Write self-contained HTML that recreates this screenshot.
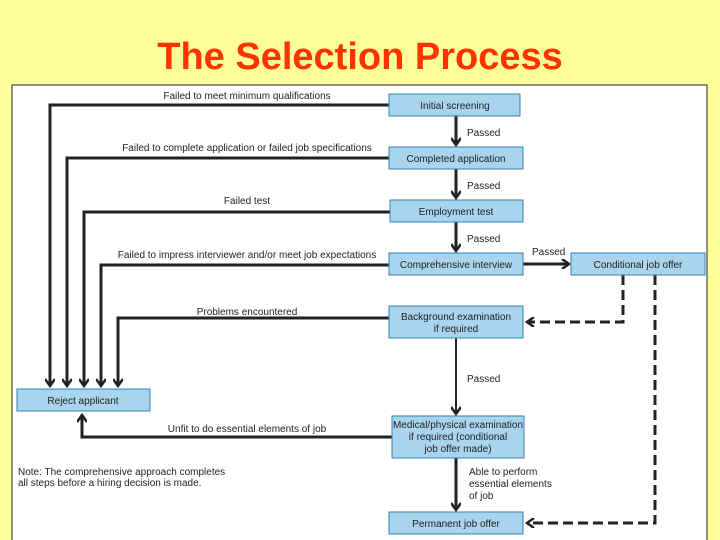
<!DOCTYPE html>
<html><head><meta charset="utf-8"><style>
html,body{margin:0;padding:0}
body{width:720px;height:540px;background:#ffff99;position:relative;overflow:hidden;font-family:"Liberation Sans",sans-serif}
.t{position:absolute;left:0;width:720px;top:36px;text-align:center;font-size:38px;font-weight:bold;color:#ff3300}
svg{position:absolute;left:0;top:0}
</style></head><body>
<div class="t">The Selection Process</div>
<svg width="720" height="540" viewBox="0 0 720 540" font-family="Liberation Sans, sans-serif" font-size="10" fill="#222">
<defs>
<marker id="a" markerWidth="10" markerHeight="10" refX="8" refY="5" orient="auto" markerUnits="userSpaceOnUse"><path d="M1,0 L8,5 L1,10" fill="none" stroke="#222" stroke-width="2.5"/></marker>
</defs>
<rect x="12" y="85" width="695" height="460" fill="#fff" stroke="#222" stroke-width="1"/>
<g stroke="#222" stroke-width="3" fill="none">
<polyline points="389,105 50,105 50,386" marker-end="url(#a)"/>
<polyline points="389,158 67,158 67,386" marker-end="url(#a)"/>
<polyline points="390,212 84,212 84,386" marker-end="url(#a)"/>
<polyline points="389,265 101,265 101,386" marker-end="url(#a)"/>
<polyline points="389,318 118,318 118,386" marker-end="url(#a)"/>
<line x1="456" y1="116" x2="456" y2="145" marker-end="url(#a)"/>
<line x1="456" y1="169" x2="456" y2="198" marker-end="url(#a)"/>
<line x1="456" y1="222" x2="456" y2="251" marker-end="url(#a)"/>
<line x1="523" y1="264" x2="569" y2="264" marker-end="url(#a)"/>
<polyline points="392,437 82,437 82,415" marker-end="url(#a)"/>
<line x1="456" y1="458" x2="456" y2="510" marker-end="url(#a)"/>
<polyline points="623,275 623,322 527,322" stroke-dasharray="10,5" marker-end="url(#a)"/>
<polyline points="655,275 655,523 527,523" stroke-dasharray="10,5" marker-end="url(#a)"/>
</g>
<line x1="456" y1="338" x2="456" y2="414" stroke="#222" stroke-width="2" marker-end="url(#a)"/>
<g fill="#a8d4ee" stroke="#3a80b0" stroke-width="1">
<rect x="389" y="94" width="131" height="22"/>
<rect x="389" y="147" width="134" height="22"/>
<rect x="390" y="200" width="133" height="22"/>
<rect x="389" y="253" width="134" height="22"/>
<rect x="571" y="253" width="134" height="22"/>
<rect x="389" y="306" width="134" height="32"/>
<rect x="17" y="389" width="133" height="22"/>
<rect x="392" y="416" width="132" height="42"/>
<rect x="389" y="512" width="134" height="22"/>
</g>
<g text-anchor="middle">
<text x="455" y="109">Initial screening</text>
<text x="456" y="162">Completed application</text>
<text x="456" y="215">Employment test</text>
<text x="456" y="268">Comprehensive interview</text>
<text x="638" y="268">Conditional job offer</text>
<text x="456" y="320">Background examination</text>
<text x="456" y="332">if required</text>
<text x="83" y="404">Reject applicant</text>
<text x="458" y="428">Medical/physical examination</text>
<text x="458" y="440">if required (conditional</text>
<text x="458" y="452">job offer made)</text>
<text x="456" y="527">Permanent job offer</text>
<text x="247" y="99">Failed to meet minimum qualifications</text>
<text x="247" y="151">Failed to complete application or failed job specifications</text>
<text x="247" y="204">Failed test</text>
<text x="247" y="258">Failed to impress interviewer and/or meet job expectations</text>
<text x="247" y="315">Problems encountered</text>
<text x="247" y="432">Unfit to do essential elements of job</text>
</g>
<text x="467" y="136">Passed</text>
<text x="467" y="189">Passed</text>
<text x="467" y="242">Passed</text>
<text x="532" y="255">Passed</text>
<text x="467" y="382">Passed</text>
<text x="469" y="475">Able to perform</text>
<text x="469" y="487">essential elements</text>
<text x="469" y="499">of job</text>
<text x="18" y="475">Note: The comprehensive approach completes</text>
<text x="18" y="486">all steps before a hiring decision is made.</text>
</svg>
</body></html>
